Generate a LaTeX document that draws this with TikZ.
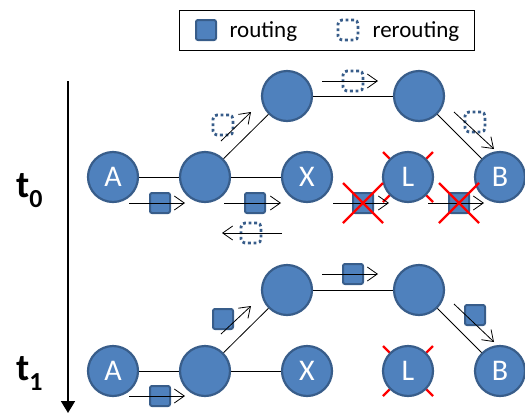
\documentclass[tikz,border=0pt]{standalone}
\usepackage{fontspec}
\setmainfont{Carlito}
\usetikzlibrary{arrows.meta}
\definecolor{officeblue}{RGB}{79,129,189}
\definecolor{officeline}{RGB}{56,93,138}
\tikzset{
  router/.style={circle,fill=officeblue,draw=officeline,line width=2.2pt,minimum size=50pt,inner sep=0pt,text=white,font=\fontsize{30}{32}\selectfont},
  packet/.style={rectangle,fill=officeblue,draw=officeline,line width=2pt,rounded corners=2pt,minimum size=20pt,inner sep=0pt},
  repacket/.style={rectangle,draw=officeline,line width=2.8pt,dash pattern=on 2.8pt off 2.8pt,rounded corners=4pt,minimum size=20pt,inner sep=0pt},
  flow/.style={-{Straight Barb[length=10pt,width=14pt]},line width=0.8pt},
  cross/.style={red,line width=2.4pt},
  link/.style={line width=0.8pt}
}
\begin{document}
\begin{tikzpicture}[x=1pt,y=-1pt]
        \useasboundingbox (0,0) rectangle (525,413);
        % legend
        \draw[line width=0.8pt] (179,10) rectangle (474,50);
        \node[packet] (lp) at (206,30) {};
        \node[anchor=base west,font=\fontsize{23}{26}\selectfont] (lt) at (226,37) {routing};
        \node[repacket] (lr) at (348,30) {};
        \node[anchor=base west,font=\fontsize{23}{26}\selectfont] (lrt) at (369,37) {rerouting};
        % time axis
        \coordinate (T0) at (68,81);
        \coordinate (T1) at (68,413);
        \draw[line width=1.8pt,-{Triangle[length=12pt,width=14pt]}] (T0) -- (T1);
        \node[anchor=base west,inner sep=0pt,font=\fontsize{38}{40}\selectfont\bfseries] (t0) at (16,197) {t\raisebox{-10pt}{\fontsize{26}{28}\selectfont 0}};
        \node[anchor=base west,inner sep=0pt,font=\fontsize{38}{40}\selectfont\bfseries] (t1) at (16,380) {t\raisebox{-10pt}{\fontsize{26}{28}\selectfont 1}};

        \begin{scope}
        \node[router] (A0) at (113,177) {A};
        \node[router] (C0) at (205,177) {};
        \node[router] (D0) at (287,96) {};
        \node[router] (E0) at (419,96) {};
        \node[router] (X0) at (307,177) {X};
        \coordinate (L0c) at (408,177);
        \draw[cross] ([shift={(-25,-25)}]L0c) -- ([shift={(25,25)}]L0c);
        \draw[cross] ([shift={(-25,25)}]L0c) -- ([shift={(25,-25)}]L0c);
        \node[router] (L0) at (L0c) {L};
        \node[router] (B0) at (500,177) {B};
        \draw[link] (A0)--(C0);
        \draw[link] (C0)--(X0);
        \draw[link] (C0)--(D0);
        \draw[link] (D0)--(E0);
        \draw[link] (E0)--(B0);
        % packets
        \node[packet] (p1) at (160,203) {};
        \node[packet] (p2) at (255,203) {};
        \node[repacket] (r3) at (251,233) {};
        \node[repacket] (r4) at (223,125) {};
        \node[repacket] (r5) at (353,81) {};
        \node[repacket] (r6) at (475,122) {};
        \node[packet] (p7) at (363,203) {};
        \node[packet] (p8) at (459,203) {};
        % flows
        \coordinate (f1s) at (129,203); \coordinate (f1e) at (185,203);
        \coordinate (f2s) at (224,203); \coordinate (f2e) at (281,203);
        \coordinate (f3s) at (282,233); \coordinate (f3e) at (222,233);
        \coordinate (f4s) at (221,141); \coordinate (f4e) at (251,112);
        \coordinate (f5s) at (322,81);  \coordinate (f5e) at (378,81);
        \coordinate (f6s) at (454,112); \coordinate (f6e) at (494,149);
        \coordinate (f7s) at (333,203); \coordinate (f7e) at (389,203);
        \coordinate (f8s) at (428,203); \coordinate (f8e) at (484,203);
        \draw[flow] (f1s)--(f1e);
        \draw[flow] (f2s)--(f2e);
        \draw[flow] (f3s)--(f3e);
        \draw[flow] (f4s)--(f4e);
        \draw[flow] (f5s)--(f5e);
        \draw[flow] (f6s)--(f6e);
        \draw[flow] (f7s)--(f7e);
        \draw[flow] (f8s)--(f8e);
        % dropped packets
        \draw[cross] ([shift={(-20,-20)}]p7.center) -- ([shift={(20,20)}]p7.center);
        \draw[cross] ([shift={(-20,20)}]p7.center) -- ([shift={(20,-20)}]p7.center);
        \draw[cross] ([shift={(-20,-20)}]p8.center) -- ([shift={(20,20)}]p8.center);
        \draw[cross] ([shift={(-20,20)}]p8.center) -- ([shift={(20,-20)}]p8.center);
        \end{scope}

        \begin{scope}[yshift=-194pt]
        \node[router] (A1) at (113,177) {A};
        \node[router] (C1) at (205,177) {};
        \node[router] (D1) at (287,96) {};
        \node[router] (E1) at (419,96) {};
        \node[router] (X1) at (307,177) {X};
        \coordinate (L1c) at (408,177);
        \draw[cross] ([shift={(-25,-25)}]L1c) -- ([shift={(25,25)}]L1c);
        \draw[cross] ([shift={(-25,25)}]L1c) -- ([shift={(25,-25)}]L1c);
        \node[router] (L1) at (L1c) {L};
        \node[router] (B1) at (500,177) {B};
        \draw[link] (A1)--(C1);
        \draw[link] (C1)--(X1);
        \draw[link] (C1)--(D1);
        \draw[link] (D1)--(E1);
        \draw[link] (E1)--(B1);
        % packets
        \node[packet] (q1) at (160,202) {};
        \node[packet] (q2) at (223,125) {};
        \node[packet] (q3) at (353,80) {};
        \node[packet] (q4) at (475,121) {};
        % flows
        \coordinate (g1s) at (129,202); \coordinate (g1e) at (185,202);
        \coordinate (g2s) at (221,140); \coordinate (g2e) at (251,112);
        \coordinate (g3s) at (322,80);  \coordinate (g3e) at (378,80);
        \coordinate (g4s) at (454,110); \coordinate (g4e) at (494,148);
        \draw[flow] (g1s)--(g1e);
        \draw[flow] (g2s)--(g2e);
        \draw[flow] (g3s)--(g3e);
        \draw[flow] (g4s)--(g4e);
        \end{scope}
\end{tikzpicture}
\end{document}
